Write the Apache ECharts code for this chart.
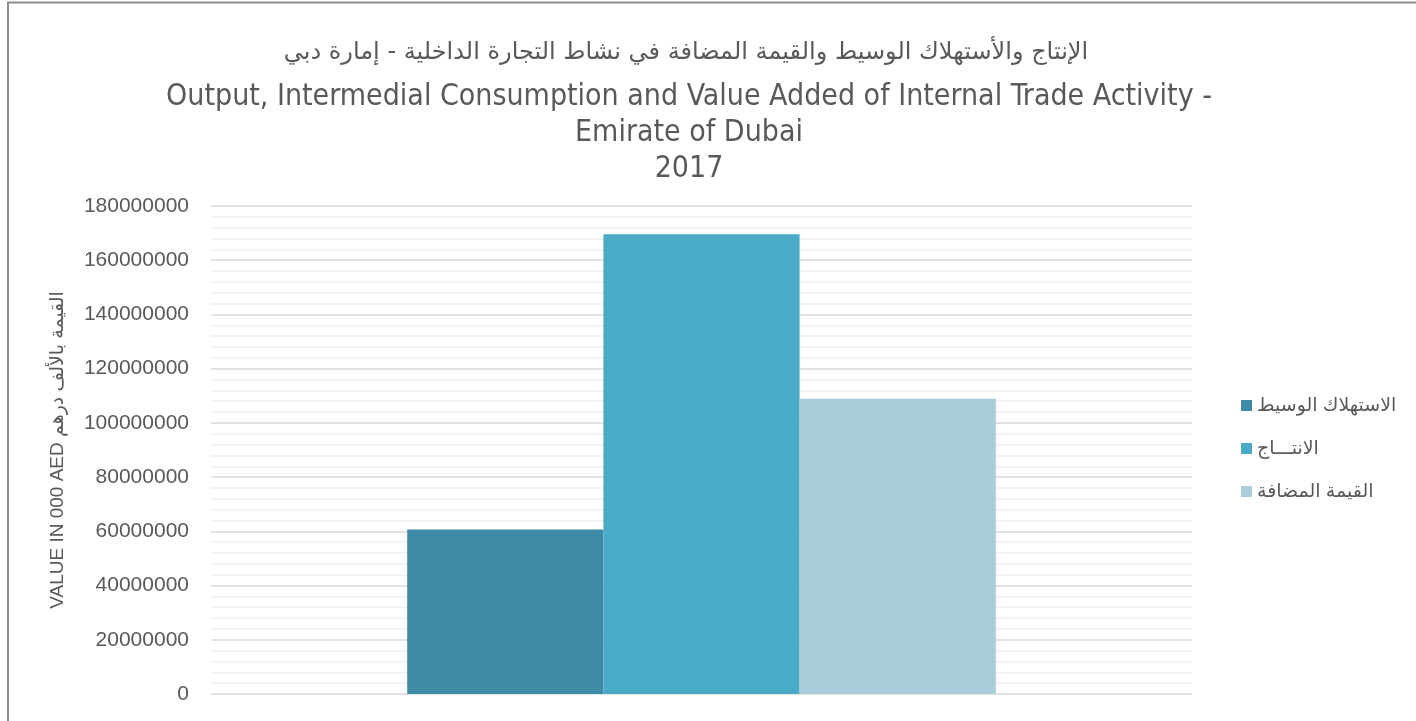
<!DOCTYPE html>
<html>
<head>
<meta charset="utf-8">
<script src="https://cdn.jsdelivr.net/npm/echarts@6/dist/echarts.min.js"></script>
<style>
  html, body { margin: 0; padding: 0; background: #fff; }
  #chart { width: 1416px; height: 721px; }
</style>
</head>
<body>
<div id="chart"></div>
<script>
// data
const categories = ['2017'];
const seriesNames = ['الاستهلاك الوسيط', 'الانتـــاج', 'القيمة المضافة'];
const intermediate = [60700000];
const output = [169600000];
const valueAdded = [108900000];
const seriesColors = ['#3d8ba4', '#4aabc6', '#aacddc'];

const titleAr = 'الإنتاج والأستهلاك الوسيط والقيمة المضافة في نشاط التجارة الداخلية - إمارة دبي';
const titleEn = 'Output, Intermedial Consumption and Value Added of Internal Trade Activity -\nEmirate of Dubai\n2017';
const yName = 'VALUE IN 000 AED القيمة بالألف درهم';

const chart = echarts.init(document.getElementById('chart'));

const values = [intermediate, output, valueAdded];

chart.setOption({
    animation: false,
    backgroundColor: '#fff',
    graphic: [{
        type: 'rect',
        shape: { x: 8, y: 2.5, width: 1430, height: 740 },
        style: { fill: 'none', stroke: '#8c8c8c', lineWidth: 2 },
        silent: true
    }],
    title: [{
        text: titleAr,
        left: 681,
        top: 33,
        textAlign: 'center',
        textStyle: {
            fontFamily: 'DejaVu Sans',
            fontSize: 24,
            fontWeight: 'normal',
            color: '#595959',
            lineHeight: 30
        }
    }, {
        text: titleEn,
        left: 684,
        top: 74,
        textAlign: 'center',
        textStyle: {
            fontFamily: '"Liberation Sans Narrow", "DejaVu Sans Condensed", sans-serif',
            fontSize: 30,
            fontWeight: 'normal',
            color: '#595959',
            lineHeight: 36
        }
    }],
    legend: {
        orient: 'vertical',
        left: 1236,
        top: 391,
        itemWidth: 11,
        itemHeight: 11,
        itemGap: 24,
        icon: 'rect',
        textStyle: {
            fontFamily: '"Liberation Sans", "DejaVu Sans", sans-serif',
            fontSize: 19,
            color: '#595959'
        },
        data: seriesNames
    },
    grid: {
        left: 211,
        right: 224,
        top: 206,
        bottom: 27,
        containLabel: false
    },
    xAxis: {
        type: 'category',
        data: categories,
        axisLine: { show: false },
        axisTick: { show: false },
        axisLabel: { show: false }
    },
    yAxis: {
        type: 'value',
        min: 0,
        max: 180000000,
        interval: 20000000,
        name: yName,
        nameLocation: 'middle',
        nameGap: 144,
        nameTextStyle: {
            fontFamily: '"Liberation Sans", "DejaVu Sans", sans-serif',
            fontSize: 19,
            color: '#595959'
        },
        axisLine: { show: false },
        axisTick: { show: false },
        axisLabel: {
            margin: 22,
            fontFamily: '"Liberation Sans", sans-serif',
            fontSize: 21,
            color: '#595959',
            formatter: (v) => String(v)
        },
        splitLine: { lineStyle: { color: '#d9d9d9', width: 1.5 } },
        minorTick: { show: false, splitNumber: 5 },
        minorSplitLine: { show: true, lineStyle: { color: '#f0f0f0', width: 1.5 } }
    },
    series: seriesNames.map((name, i) => ({
        name: name,
        type: 'bar',
        data: values[i],
        barGap: '0%',
        barCategoryGap: '40%',
        itemStyle: { color: seriesColors[i] }
    }))
});
</script>
</body>
</html>
